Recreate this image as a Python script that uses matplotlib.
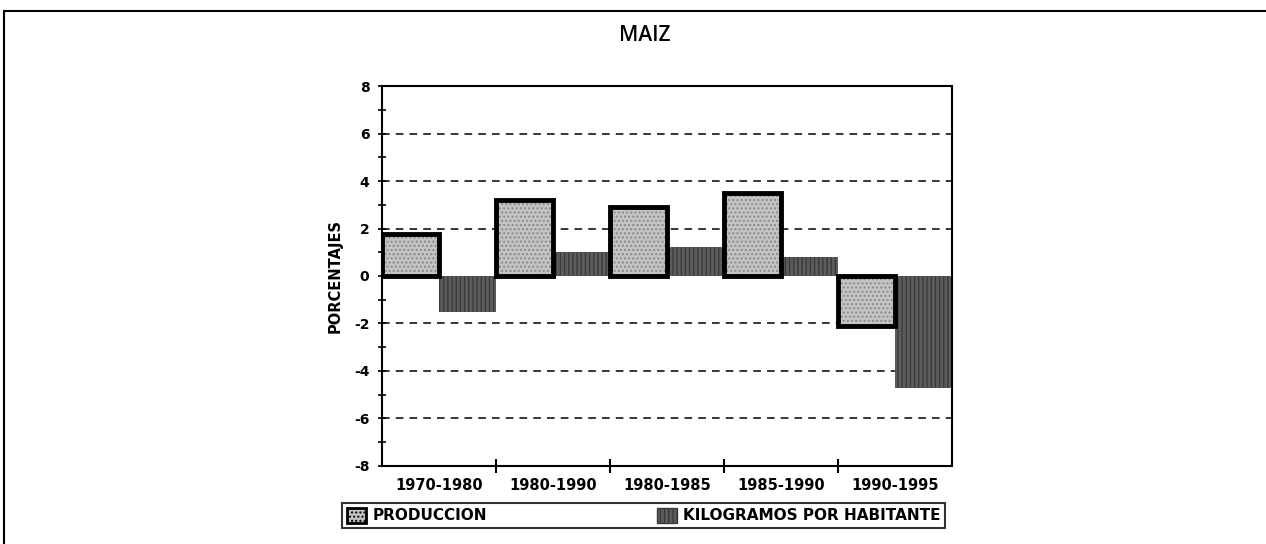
import matplotlib.pyplot as plt
import matplotlib.patches as mpatches
import numpy as np

periods = ["1970-1980", "1980-1990", "1980-1985", "1985-1990", "1990-1995"]
produccion = [1.75, 3.2, 2.9, 3.5, -2.1]
kg_habitante = [-1.5, 1.0, 1.2, 0.8, -4.7]
yticks = [-8, -6, -4, -2, 0, 2, 4, 6, 8]

fig = plt.figure(figsize=(12.66, 5.44), dpi=100)
ax = fig.add_axes([0.3017, 0.1434, 0.4502, 0.6985])

x = np.arange(len(periods))
w = 0.5

# dashed grid under the bars
for yv in [-6, -4, -2, 2, 4, 6]:
    ax.axhline(yv, color="black", ls=(0, (5, 4)), lw=1.1, zorder=1)

ax.bar(x, produccion, width=w, align="edge", color="#c4c4c4",
       edgecolor="#8a8a8a", hatch="....", lw=0, zorder=2)
ax.bar(x, produccion, width=w, align="edge", fill=False,
       edgecolor="black", lw=3.5, zorder=3)
ax.bar(x + w, kg_habitante, width=w, align="edge", color="#5c5c5c",
       edgecolor="#3a3a3a", hatch="||||", lw=0, zorder=2)

ax.set_xlim(0, len(periods))
ax.set_ylim(-8, 8)
ax.set_yticks(yticks)
ax.set_yticklabels([str(v) for v in yticks], fontsize=10, fontweight="bold")
ax.set_yticks(np.arange(-7, 8, 2), minor=True)
ax.set_xticks(np.arange(1, len(periods)))
ax.set_xticklabels([])
ax.set_xticks(x + 0.5, minor=True)
ax.set_xticklabels(periods, minor=True, fontsize=10.5, fontweight="bold")
ax.tick_params(axis="x", which="minor", length=0, pad=9)
ax.tick_params(axis="x", which="major", direction="inout", length=10, width=1.5)
ax.tick_params(axis="y", which="both", direction="inout", length=6, width=1.2)
ax.tick_params(axis="y", which="major", pad=6)
for s in ax.spines.values():
    s.set_linewidth(1.5)
ax.set_ylabel("PORCENTAJES", fontsize=10.5, fontweight="bold", labelpad=8)

fig.text(0.5095, 0.935, "MAIZ", ha="center", va="center", fontsize=15,
         family="Open Sans", fontweight="semibold")

# outer frame
frame = mpatches.Rectangle((0.003, -0.1), 1.2, 1.08, transform=fig.transFigure,
                           fill=False, lw=1.5, edgecolor="black")
fig.patches.append(frame)

h1 = mpatches.Patch(facecolor="#c4c4c4", edgecolor="black", lw=2, hatch="....")
h2 = mpatches.Patch(facecolor="#5c5c5c", edgecolor="#3a3a3a", hatch="||||")
leg = fig.legend([h1, h2], ["PRODUCCION", "KILOGRAMOS POR HABITANTE"], ncol=2,
                 loc="lower left", mode="expand",
                 bbox_to_anchor=(0.2701, 0.0294, 0.4763, 0.046),
                 handlelength=1.3, handleheight=1.1,
                 handletextpad=0.4, fancybox=False, borderpad=0.3,
                 borderaxespad=0, prop={"weight": "bold", "size": 11})
leg.get_frame().set_edgecolor("black")
leg.get_frame().set_linewidth(1.5)

fig.savefig("out.png", dpi=100)
